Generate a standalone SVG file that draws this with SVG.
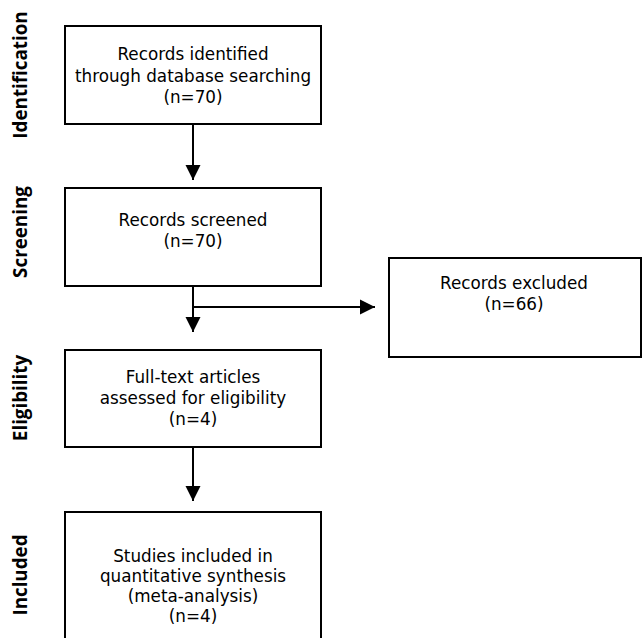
<svg xmlns="http://www.w3.org/2000/svg" width="643" height="638" viewBox="0 0 643 638">
<style>
.box{fill:#fff;stroke:#000;stroke-width:2}
.t{font-family:"DejaVu Sans","Noto Sans",sans-serif;font-size:16.8px;fill:#000;text-anchor:middle}
.lab{font-family:"Open Sans","Noto Sans",sans-serif;font-size:18.8px;font-weight:bold;fill:#000;text-anchor:middle}
.con{stroke:#000;stroke-width:2;fill:none}
</style>
<defs>
<marker id="ah" markerUnits="userSpaceOnUse" markerWidth="16" markerHeight="16" viewBox="0 0 16 16" refX="15" refY="8" orient="auto">
<path d="M0,0.5 L15,8 L0,15.5 Z" fill="#000"/>
</marker>
</defs>
<rect width="643" height="638" fill="#fff"/>
<g id="labels">
<text class="lab" transform="translate(27,75) rotate(-90)">Identification</text>
<text class="lab" transform="translate(27,232) rotate(-90)">Screening</text>
<text class="lab" transform="translate(27,398) rotate(-90)">Eligibility</text>
<text class="lab" transform="translate(27,575) rotate(-90)">Included</text>
</g>
<g id="connectors">
<line class="con" x1="193" y1="124" x2="193" y2="180" marker-end="url(#ah)"/>
<line class="con" x1="193" y1="286" x2="193" y2="332" marker-end="url(#ah)"/>
<line class="con" x1="193" y1="307" x2="375" y2="307" stroke-width="1.6" marker-end="url(#ah)"/>
<line class="con" x1="193" y1="447" x2="193" y2="501" marker-end="url(#ah)"/>
</g>
<g id="identified">
<rect class="box" x="65" y="26" width="256" height="98"/>
<text class="t" x="193" y="60">Records identified</text>
<text class="t" x="193" y="82">through database searching</text>
<text class="t" x="193" y="103">(n=70)</text>
</g>
<g id="screened">
<rect class="box" x="65" y="188" width="256" height="98"/>
<text class="t" x="193" y="226">Records screened</text>
<text class="t" x="193" y="247">(n=70)</text>
</g>
<g id="excluded">
<rect class="box" x="389" y="258" width="252" height="99"/>
<text class="t" x="514" y="289">Records excluded</text>
<text class="t" x="514" y="310">(n=66)</text>
</g>
<g id="eligibility">
<rect class="box" x="65" y="350" width="256" height="97"/>
<text class="t" x="193" y="383">Full-text articles</text>
<text class="t" x="193" y="404">assessed for eligibility</text>
<text class="t" x="193" y="425">(n=4)</text>
</g>
<g id="included">
<rect class="box" x="65" y="512" width="256" height="140"/>
<text class="t" x="193" y="562">Studies included in</text>
<text class="t" x="193" y="582">quantitative synthesis</text>
<text class="t" x="193" y="602">(meta-analysis)</text>
<text class="t" x="193" y="622">(n=4)</text>
</g>
</svg>
